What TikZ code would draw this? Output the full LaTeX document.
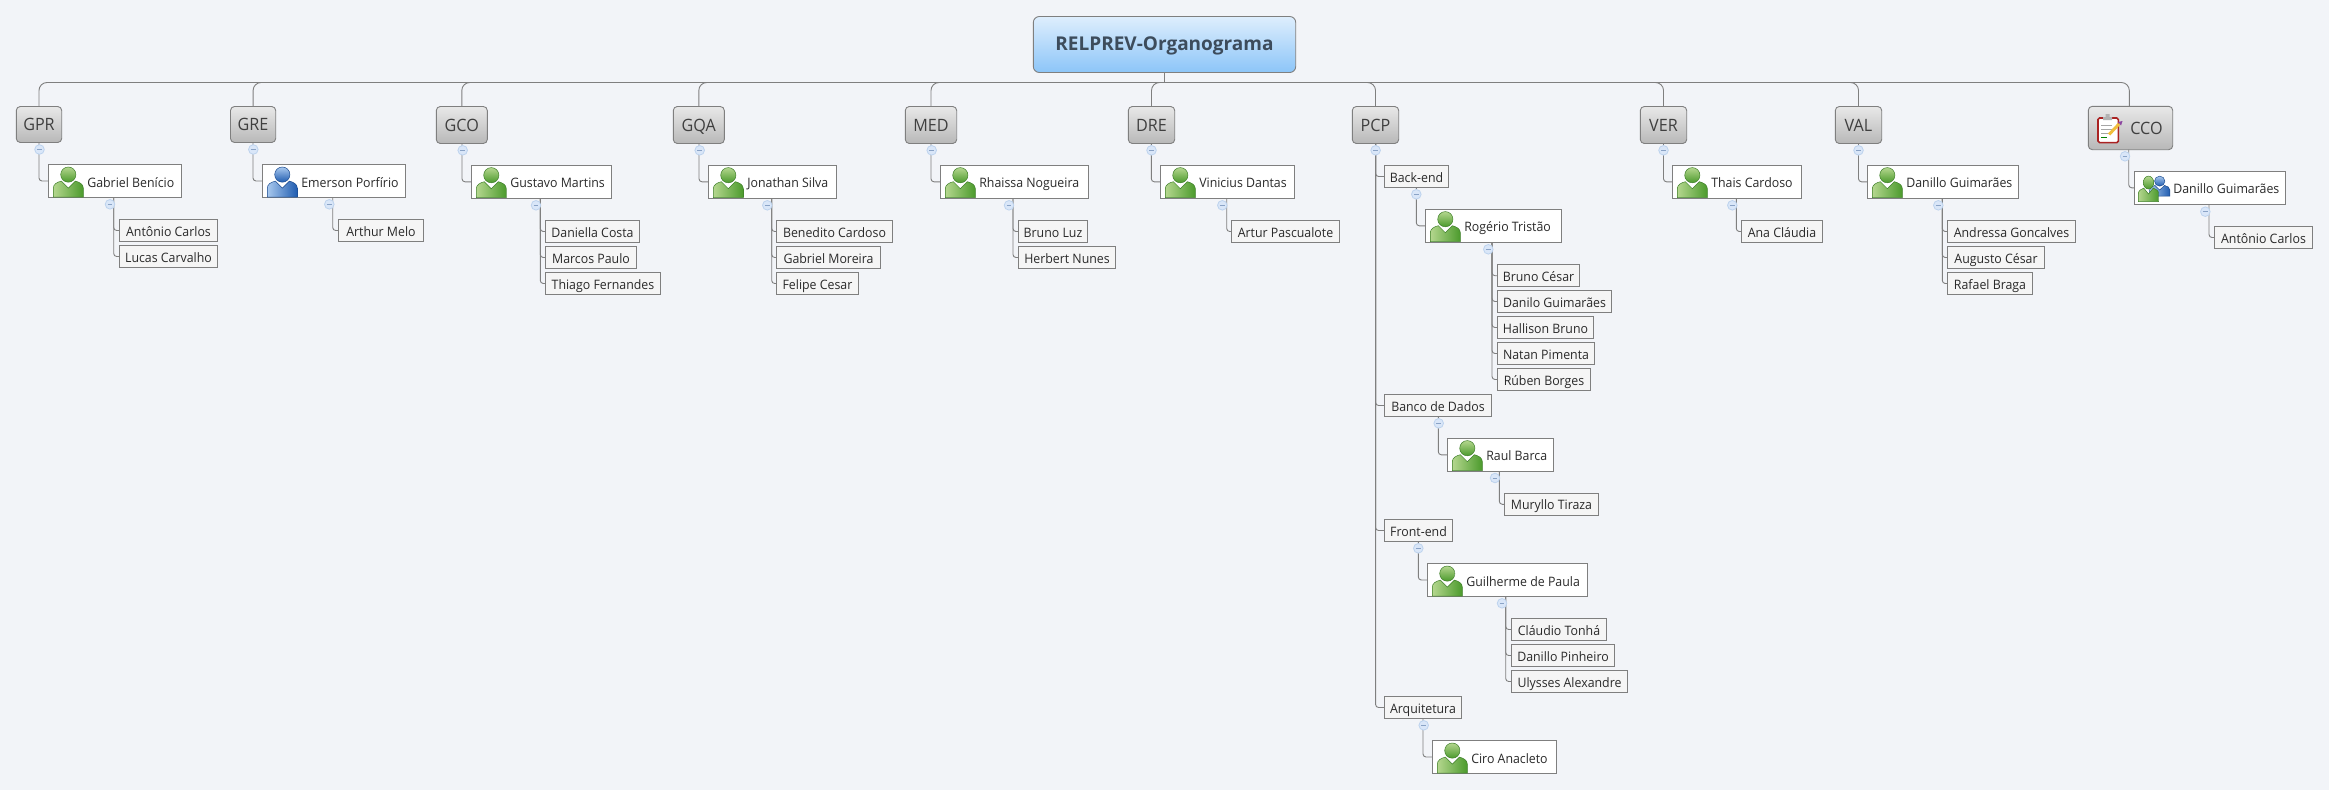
\documentclass[tikz,border=0pt]{standalone}
\usepackage{fontspec}
\setmainfont{Open Sans}
\newfontfamily\narrowf[FakeStretch=0.95]{Open Sans}
\usetikzlibrary{calc}
\definecolor{bgc}{HTML}{F2F4F8}
\definecolor{linec}{HTML}{7F7F7F}
\definecolor{txt}{HTML}{2A2A2A}
\definecolor{toptxt}{HTML}{3F3F3F}
\definecolor{roottxt}{HTML}{3D4C5C}
\definecolor{rt1}{HTML}{DEEEFD}
\definecolor{rt2}{HTML}{8CC5F8}
\definecolor{tp1}{HTML}{E8E8E8}
\definecolor{tp2}{HTML}{B8B8B8}
\definecolor{kidf}{HTML}{F5F5F5}
\definecolor{tgf}{HTML}{D9E6F8}
\definecolor{tgd}{HTML}{BDD3EE}
\definecolor{tgm}{HTML}{8AA3C6}
\definecolor{gl}{HTML}{B4D68E}
\definecolor{gd}{HTML}{4B9A2C}
\definecolor{ge}{HTML}{3F7F2A}
\definecolor{bl}{HTML}{A8C8EE}
\definecolor{bd}{HTML}{1F5CB0}
\definecolor{be}{HTML}{1B4A8E}
\definecolor{clipr}{HTML}{AA2323}
\definecolor{penc}{HTML}{F0BE3C}
\definecolor{penp}{HTML}{8C46A0}
\tikzset{
 base/.style={draw=linec,line width=0.9pt,inner sep=0pt,outer sep=0pt},
 rootbox/.style={base,rounded corners=6pt,top color=rt1,bottom color=rt2,text=roottxt,font=\bfseries\fontsize{19}{22}\selectfont,text height=16pt,text depth=5pt},
 topbox/.style={base,rounded corners=4pt,top color=tp1,bottom color=tp2,text=toptxt,font=\narrowf\fontsize{17}{20}\selectfont,text height=16pt,text depth=3.6pt},
 persbox/.style={base,fill=white,text=txt,font=\narrowf\fontsize{13}{16}\selectfont,text height=15pt,text depth=3pt},
 kidbox/.style={base,fill=kidf,text=txt,font=\narrowf\fontsize{13}{16}\selectfont,text height=14pt,text depth=3pt},
 conn/.style={draw=linec,line width=0.9pt},
 togg/.style={circle,minimum size=9.6pt,inner sep=0pt,fill=tgf,draw=tgd,line width=0.8pt},
 togm/.style={draw=tgm,line width=0.7pt},
}
\newcommand\bx[7]{\node[#1,minimum width={#5-#3},minimum height={#6-#4}] (#2) at ({(#3+#5)/2},{(#4+#6)/2}) {#7};}
\newcommand\iconshape[1]{%
 \begin{scope}[draw=#1e,line width=0.5pt]
  \path[draw,left color=#1l,right color=#1d] (0,0) -- (0,-9) .. controls (0,-13) and (4,-15) .. (8,-16) -- (15,-9) -- (22,-16) .. controls (26,-15) and (30,-13) .. (30,-9) -- (30,0) -- cycle;
  \path[draw,top color=#1l,bottom color=#1d] (15,-22.5) circle (7.6);
 \end{scope}}
\newcommand\pers[7][g]{\pgfmathsetlengthmacro\boxw{#5-#3}%
 \node[persbox,minimum width={#5-#3},minimum height={#6-#4}] (#2) at ({(#3+#5)/2},{(#4+#6)/2}) {\makebox[\boxw][l]{\hspace{39pt}#7}};
 \begin{scope}[shift={(#3+5,#6-0.6)}]\iconshape{#1}\end{scope}}
\newcommand\fork[5]{\coordinate (#1-s) at (#2,0 |- #1.south);
 \foreach \k in {#5} {\draw[conn,rounded corners=3pt] (#1-s) |- (\k.west);}
 \node[togg] (#1-t) at (#3,#4) {};
 \draw[togm] ([xshift=-2.4pt]#1-t.center) -- ([xshift=2.4pt]#1-t.center);}
\begin{document}
\begin{tikzpicture}[x=1pt,y=-1pt]
\useasboundingbox (0,0) rectangle (2329,790);
\fill[bgc] (0,0) rectangle (2329,790);
\bx{rootbox}{root}{1033.3}{16.5}{1295.7}{72.5}{RELPREV-Organograma}
\bx{topbox}{gpr}{16.3}{106.5}{61.7}{142.5}{GPR}
\bx{topbox}{gre}{230.5}{106.5}{275.7}{142.5}{GRE}
\bx{topbox}{gco}{436.3}{106.5}{487.3}{143.5}{GCO}
\bx{topbox}{gqa}{673.3}{106.5}{724.3}{143.5}{GQA}
\bx{topbox}{med}{905.3}{106.5}{956.7}{143.5}{MED}
\bx{topbox}{dre}{1128.3}{106.5}{1174.7}{143.5}{DRE}
\bx{topbox}{pcp}{1352.3}{106.5}{1398.7}{143.5}{PCP}
\bx{topbox}{ver}{1640.3}{106.5}{1686.7}{143.5}{VER}
\bx{topbox}{val}{1835.3}{106.5}{1881.7}{143.5}{VAL}
\node[topbox,minimum width=84.4,minimum height=43.4] (cco) at (2130.5,128) {\makebox[84.4pt][l]{\hspace{42pt}CCO}};
% persons
\pers{a1}{48.3}{164.3}{181.7}{197.7}{Gabriel Benício}
\pers[b]{a2}{262.3}{164.3}{405.7}{197.7}{Emerson Porfírio}
\pers{a3}{471.3}{165.3}{611.7}{198.3}{Gustavo Martins}
\pers{a4}{708.3}{165.3}{836.7}{198.3}{Jonathan Silva}
\pers{a5}{940.3}{165.3}{1088.7}{198.3}{Rhaissa Nogueira}
\pers{a6}{1160.3}{165.3}{1294.7}{198.3}{Vinicius Dantas}
\pers{a8}{1672.3}{165.3}{1801.7}{198.3}{Thais Cardoso}
\pers{a9}{1867.3}{165.3}{2018.7}{198.3}{Danillo Guimarães}
\node[persbox,minimum width=151.4,minimum height=33] (a10) at (2210,187.8) {\makebox[151.4pt][l]{\hspace{39pt}Danillo Guimarães}};
\begin{scope}[shift={(2149.5,196)},xscale=.68,yscale=.66]\iconshape{b}\end{scope}
\begin{scope}[shift={(2138.3,201.7)},xscale=.68,yscale=.85]\iconshape{g}\end{scope}
% clipboard icon
\filldraw[draw=clipr,fill=white,line width=1.6pt,rounded corners=1.5pt] (2098,118) rectangle (2118.3,142.6);
\fill[gray!60] (2103,117) rectangle (2112,120) (2105.5,114) rectangle (2109.5,118);
\draw[gray!70,line width=.8pt] (2101,125) -- (2112,125) (2101,129) -- (2112,129) (2101,133) -- (2110,133);
\draw[green!50!black,line width=.8pt] (2101,137) -- (2107,137);
\draw[penc,line width=3pt] (2109,134.5) -- (2119,124);
\fill[penp] (2118,122) -- (2122.5,121) -- (2121,125.5) -- cycle;
% PCP structure
\bx{kidbox}{be}{1384.3}{165.3}{1448.7}{187.7}{Back-end}
\pers{rt}{1425.3}{209.3}{1561.7}{242.3}{Rogério Tristão}
\bx{kidbox}{bc}{1497.3}{264.7}{1579.7}{286.7}{Bruno César}
\bx{kidbox}{dg}{1497.3}{290.3}{1611.7}{312.7}{Danilo Guimarães}
\bx{kidbox}{hb}{1497.3}{316.3}{1593.7}{338.7}{Hallison Bruno}
\bx{kidbox}{np}{1497.3}{342.3}{1594.7}{364.7}{Natan Pimenta}
\bx{kidbox}{rb}{1497.3}{368.3}{1590.7}{390.7}{Rúben Borges}
\bx{kidbox}{bd}{1384.3}{394.3}{1491.7}{416.7}{Banco de Dados}
\pers{ra}{1447.3}{438.3}{1553.7}{471.3}{Raul Barca}
\bx{kidbox}{mt}{1504.3}{493.3}{1598.7}{515.3}{Muryllo Tiraza}
\bx{kidbox}{fe}{1384.3}{519.3}{1452.7}{541.7}{Front-end}
\pers{gp}{1427.3}{563.3}{1587}{596.7}{Guilherme de Paula}
\bx{kidbox}{ct}{1511.3}{618.3}{1606.7}{640.7}{Cláudio Tonhá}
\bx{kidbox}{dp}{1511.3}{644.3}{1614.7}{666.7}{Danillo Pinheiro}
\bx{kidbox}{ua}{1511.3}{670.3}{1627.7}{692.7}{Ulysses Alexandre}
\bx{kidbox}{aq}{1384.3}{696.3}{1461.7}{718.7}{Arquitetura}
\pers{ca}{1432.3}{740.3}{1556.7}{773.7}{Ciro Anacleto}
% leaves
\bx{kidbox}{k11}{119.3}{219.3}{217.7}{241.7}{Antônio Carlos}
\bx{kidbox}{k12}{119.3}{245.3}{217.7}{267.7}{Lucas Carvalho}
\bx{kidbox}{k21}{338.3}{219.3}{423.7}{241.7}{Arthur Melo}
\bx{kidbox}{k31}{545.3}{220.3}{639.7}{242.7}{Daniella Costa}
\bx{kidbox}{k32}{545.3}{246.3}{636.7}{268.7}{Marcos Paulo}
\bx{kidbox}{k33}{545.3}{272.3}{660.7}{294.7}{Thiago Fernandes}
\bx{kidbox}{k41}{776.3}{220.3}{892.7}{242.7}{Benedito Cardoso}
\bx{kidbox}{k42}{776.3}{246.3}{880.7}{268.7}{Gabriel Moreira}
\bx{kidbox}{k43}{776.3}{272.3}{858.7}{294.7}{Felipe Cesar}
\bx{kidbox}{k51}{1018.3}{220.3}{1087.7}{242.7}{Bruno Luz}
\bx{kidbox}{k52}{1018.3}{246.3}{1115.7}{268.7}{Herbert Nunes}
\bx{kidbox}{k61}{1231.3}{220.3}{1339.7}{242.7}{Artur Pascualote}
\bx{kidbox}{k81}{1741.3}{220.3}{1822.7}{242.7}{Ana Cláudia}
\bx{kidbox}{k91}{1947.3}{220.3}{2075.7}{242.7}{Andressa Goncalves}
\bx{kidbox}{k92}{1947.3}{246.3}{2044.7}{268.7}{Augusto César}
\bx{kidbox}{k93}{1947.3}{272.3}{2032.7}{294.7}{Rafael Braga}
\bx{kidbox}{k101}{2214.3}{226.3}{2312.7}{248.7}{Antônio Carlos}
% root bus
\coordinate (bus) at (1164.5,82.5);
\draw[conn] (root.south -| bus) -- (bus);
\foreach \t in {gpr,gre,gco,gqa,med,dre,pcp,ver,val} {\draw[conn,rounded corners=8pt] (bus) -| (\t.north);}
\draw[conn,rounded corners=8pt] (bus) -| ([xshift=-1.2pt]cco.north);
% forks
\fork{gpr}{39}{39.5}{149.5}{a1}
\fork{gre}{253}{253.3}{149.5}{a2}
\fork{gco}{462}{462.7}{150.3}{a3}
\fork{gqa}{699}{699.7}{150.3}{a4}
\fork{med}{931}{931.7}{150.3}{a5}
\fork{dre}{1151.3}{1151.5}{150.3}{a6}
\fork{pcp}{1375.6}{1375.6}{150.3}{be,bd,fe,aq}
\fork{ver}{1663.5}{1663.5}{150.3}{a8}
\fork{val}{1858.5}{1858.5}{150.3}{a9}
\fork{cco}{2128.7}{2125}{156.3}{a10}
\fork{a1}{113.7}{110}{204.3}{k11,k12}
\fork{a2}{332.7}{329.3}{204.3}{k21}
\fork{a3}{540.3}{536}{205.3}{k31,k32,k33}
\fork{a4}{771.7}{767.3}{205.3}{k41,k42,k43}
\fork{a5}{1013}{1009}{205.3}{k51,k52}
\fork{a6}{1226.7}{1222.3}{205.3}{k61}
\fork{a8}{1736.3}{1732.3}{205.3}{k81}
\fork{a9}{1942.3}{1938.3}{205.3}{k91,k92,k93}
\fork{a10}{2209}{2205.3}{211.7}{k101}
\fork{be}{1416.3}{1416.3}{194.3}{rt}
\fork{rt}{1492}{1488.3}{249.3}{bc,dg,hb,np,rb}
\fork{bd}{1438.3}{1438.7}{423.3}{ra}
\fork{ra}{1499.3}{1495}{478}{mt}
\fork{fe}{1418.3}{1418.3}{548.3}{gp}
\fork{gp}{1505.7}{1502}{603.3}{ct,dp,ua}
\fork{aq}{1423}{1423.7}{725.3}{ca}
\end{tikzpicture}
\end{document}
